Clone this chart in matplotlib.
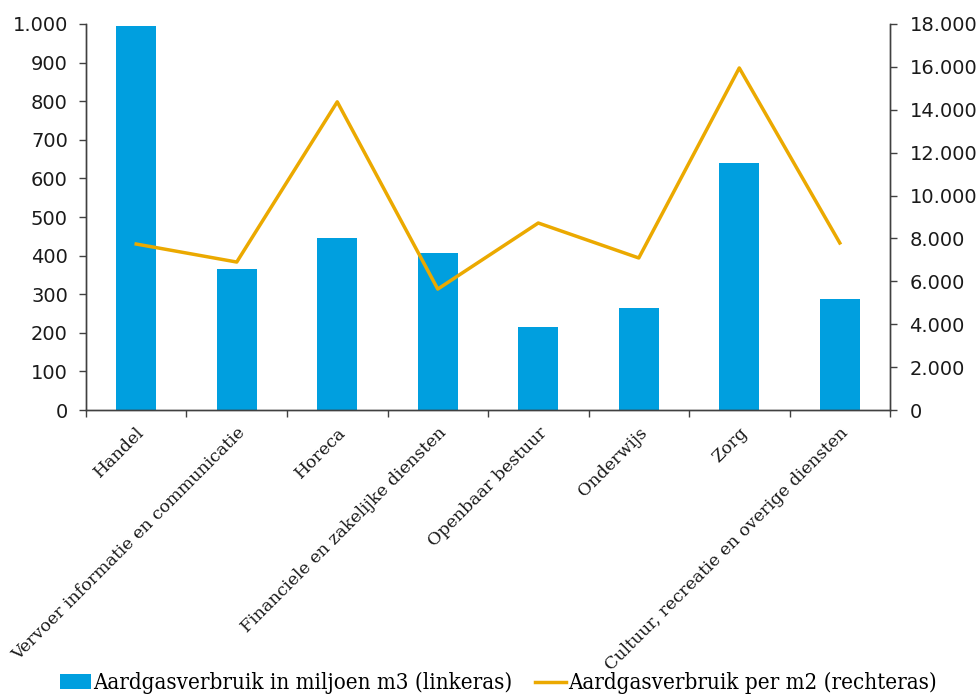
import matplotlib
matplotlib.use("Agg")
import matplotlib.pyplot as plt
from matplotlib.ticker import FuncFormatter
import numpy as np

categories = ["Handel", "Vervoer informatie en communicatie", "Horeca",
              "Financiele en zakelijke diensten", "Openbaar bestuur", "Onderwijs",
              "Zorg", "Cultuur, recreatie en overige diensten"]
gas_mln_m3 = [995, 365, 446, 407, 215, 264, 640, 288]
gas_per_m2 = [7740, 6900, 14370, 5640, 8720, 7090, 15950, 7790]

bar_color = "#009FDF"
line_color = "#EBA900"

fig = plt.figure(figsize=(9.77, 6.99), dpi=100)
ax = fig.add_axes([0.088, 0.4134, 0.823, 0.5523])
ax2 = ax.twinx()

x = np.arange(len(categories))
bars = ax.bar(x, gas_mln_m3, width=0.4, color=bar_color, zorder=2,
              label="Aardgasverbruik in miljoen m3 (linkeras)")
line, = ax2.plot(x, gas_per_m2, color=line_color, lw=2.5, zorder=3,
                 label="Aardgasverbruik per m2 (rechteras)")

ax.set_xlim(-0.5, len(categories) - 0.5)
ax.set_ylim(0, 1000)
ax2.set_ylim(0, 18000)
ax.set_yticks(np.arange(0, 1001, 100))
ax2.set_yticks(np.arange(0, 18001, 2000))

fmt = FuncFormatter(lambda v, p: f"{int(v):,}".replace(",", "."))
ax.yaxis.set_major_formatter(fmt)
ax2.yaxis.set_major_formatter(fmt)

spine_c = "#404040"
for a, pad in ((ax, 8), (ax2, 9)):
    a.spines["top"].set_visible(False)
    for s in ("left", "right", "bottom"):
        a.spines[s].set_color(spine_c)
        a.spines[s].set_linewidth(1.0)
    a.tick_params(axis="y", colors=spine_c, labelcolor="#1a1a1a", labelsize=14,
                  length=5, width=1.0, direction="out", pad=pad)
    for lab in a.get_yticklabels():
        lab.set_family("DejaVu Sans")

# category boundary ticks
ax.set_xticks(np.arange(-0.5, len(categories), 1.0))
ax.set_xticklabels([])
ax.tick_params(axis="x", length=5, width=1.0, colors=spine_c, direction="out")
ax.set_xticks(x, minor=True)
ax.set_xticklabels(categories, minor=True, rotation=45, ha="right",
                   rotation_mode="anchor", fontsize=12.5, family="DejaVu Serif",
                   color="#1a1a1a")
ax.tick_params(axis="x", which="minor", length=0, pad=10)

ax.set_zorder(1)
ax2.set_zorder(2)
ax.patch.set_visible(False)

leg = fig.legend(handles=[bars, line], loc="lower center", ncol=2,
                 bbox_to_anchor=(0.51, -0.022), frameon=False,
                 prop={"family": "DejaVu Serif", "size": 16, "stretch": "condensed"},
                 handlelength=1.4, handletextpad=0.1, columnspacing=1.0)

fig.savefig("out.png", dpi=100)
